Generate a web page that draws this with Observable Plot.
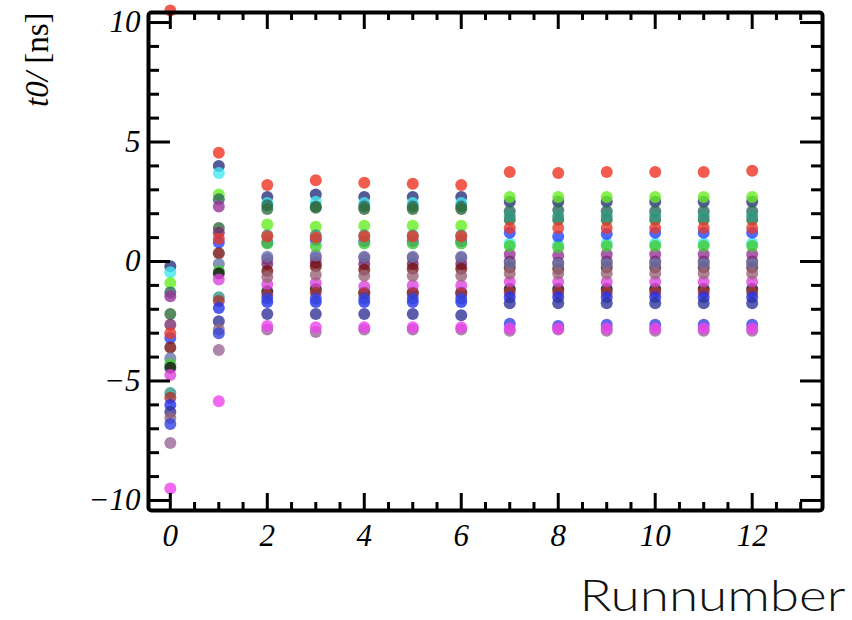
<!DOCTYPE html>
<html>
<head>
<meta charset="utf-8">
<script src="https://cdn.jsdelivr.net/npm/d3@7"></script>
<script src="https://cdn.jsdelivr.net/npm/@observablehq/plot@0.6"></script>
<style>
  html, body { margin: 0; padding: 0; background: #fff; }
  #chart { width: 852px; height: 620px; }
</style>
</head>
<body>
<div id="chart"></div>
<script>
// Run numbers on the x axis
const runs = [0, 1, 2, 3, 4, 5, 6, 7, 8, 9, 10, 11, 12];

// One colour per readout channel
const channelColors = [
  "#ee3322", "#2a2f7a", "#44e8f0", "#66ee22", "#2a6a5a", "#993399",
  "#2e6b3a", "#772d6e", "#2244ff", "#771111", "#6677aa", "#44cc33",
  "#111111", "#dd44dd", "#339988", "#aa3333", "#2233ee", "#333399",
  "#996677", "#3344dd", "#996699", "#ee44ee", "#e83a2a"
];

// t0 offsets [ns] per channel, one array per run
const t0Run00 = [10.5, -0.2, -0.45, -0.9, -1.3, -1.45, -2.2, -2.65, -3.2, -3.6, -4.05, -4.3, -4.45, -4.75, -5.5, -5.7, -6.0, -6.3, -6.55, -6.8, -7.6, -9.5, -3.0];
const t0Run01 = [4.55, 4.0, 3.7, 2.8, 2.6, 2.3, 1.4, 1.2, 0.8, 0.35, -0.1, -0.4, -0.5, -0.75, -1.5, -1.65, -1.95, -2.5, -2.85, -3.0, -3.7, -5.85, 0.95];
const t0Run02 = [3.2, 2.7, 2.45, 1.55, 2.35, 0.1, 2.2, -0.1, 0.8, -0.4, 0.2, 0.75, -1.25, -0.95, 1.1, -1.4, -1.7, -2.2, -0.65, -1.55, -2.85, -2.7, 1.05];
const t0Run03 = [3.4, 2.8, 2.5, 1.45, 2.3, 0.15, 2.25, -0.05, 0.9, -0.2, 0.25, 0.65, -1.15, -0.9, 1.1, -1.3, -1.7, -2.2, -0.55, -1.55, -2.95, -2.75, 1.0];
const t0Run04 = [3.3, 2.7, 2.45, 1.5, 2.3, 0.15, 2.2, -0.1, 0.85, -0.35, 0.2, 0.75, -1.3, -1.05, 1.1, -1.35, -1.7, -2.2, -0.6, -1.55, -2.85, -2.75, 1.05];
const t0Run05 = [3.25, 2.7, 2.45, 1.5, 2.3, 0.15, 2.2, -0.1, 0.85, -0.3, 0.2, 0.75, -1.3, -1.0, 1.1, -1.35, -1.7, -2.2, -0.6, -1.55, -2.85, -2.75, 1.05];
const t0Run06 = [3.2, 2.7, 2.45, 1.5, 2.3, 0.15, 2.2, -0.1, 0.85, -0.3, 0.2, 0.75, -1.3, -1.0, 1.1, -1.35, -1.7, -2.25, -0.6, -1.55, -2.85, -2.75, 1.05];
const t0Run07 = [3.75, 2.5, 0.75, 2.7, 2.1, 0.3, 1.75, 0.0, 1.2, -0.25, -0.1, 0.65, -1.15, -0.85, 1.9, -1.3, -1.5, -1.75, -0.5, -2.6, -2.9, -2.8, 1.4];
const t0Run08 = [3.7, 2.5, 0.7, 2.7, 2.15, 0.25, 1.75, -0.05, 1.05, -0.3, -0.1, 0.6, -1.15, -0.85, 1.9, -1.3, -1.5, -1.75, -0.5, -2.7, -2.85, -2.8, 1.4];
const t0Run09 = [3.75, 2.5, 0.75, 2.7, 2.1, 0.3, 1.75, 0.0, 1.15, -0.25, -0.1, 0.65, -1.15, -0.85, 1.9, -1.3, -1.5, -1.75, -0.5, -2.65, -2.9, -2.8, 1.4];
const t0Run10 = [3.75, 2.5, 0.75, 2.7, 2.1, 0.3, 1.75, 0.0, 1.2, -0.25, -0.1, 0.65, -1.15, -0.85, 1.9, -1.3, -1.5, -1.75, -0.5, -2.65, -2.9, -2.8, 1.4];
const t0Run11 = [3.75, 2.5, 0.75, 2.7, 2.1, 0.3, 1.75, 0.0, 1.2, -0.25, -0.1, 0.65, -1.15, -0.85, 1.9, -1.3, -1.5, -1.75, -0.5, -2.65, -2.9, -2.8, 1.4];
const t0Run12 = [3.8, 2.5, 0.75, 2.7, 2.1, 0.3, 1.75, 0.0, 1.2, -0.25, -0.1, 0.65, -1.15, -0.85, 1.9, -1.3, -1.5, -1.75, -0.5, -2.65, -2.9, -2.8, 1.4];

// Axis ticks
const xMajor = [0, 2, 4, 6, 8, 10, 12];
const xMinor = [0.5, 1, 1.5, 2.5, 3, 3.5, 4.5, 5, 5.5, 6.5, 7, 7.5, 8.5, 9, 9.5, 10.5, 11, 11.5, 12.5, 13];
const yMajor = [-10, -5, 0, 5, 10];
const yMinor = [-9, -8, -7, -6, -4, -3, -2, -1, 1, 2, 3, 4, 6, 7, 8, 9];

const t0ByRun = [t0Run00, t0Run01, t0Run02, t0Run03, t0Run04, t0Run05, t0Run06,
                 t0Run07, t0Run08, t0Run09, t0Run10, t0Run11, t0Run12];
const channels = channelColors.map((_, i) => i);
const points = runs.flatMap((run, r) =>
  t0ByRun[r].map((t0, ch) => ({run, t0, channel: ch})));

const W = 852, H = 620;
const M = {top: 12, right: 30, bottom: 110, left: 148};
const innerW = W - M.left - M.right;
const innerH = H - M.top - M.bottom;
const majorLenY = 22, minorLenY = 11;
const majorLenX = 17, minorLenX = 8;
const tickW = 3;
const serif = "'Liberation Serif', 'DejaVu Serif', serif";

const chart = Plot.plot({
  width: W,
  height: H,
  marginTop: M.top,
  marginRight: M.right,
  marginBottom: M.bottom,
  marginLeft: M.left,
  x: {domain: [-0.45, 13.45], axis: null},
  y: {domain: [-10.42, 10.42], axis: null},
  color: {domain: channels, range: channelColors},
  style: {background: "#fff", overflow: "visible"},
  marks: [
    Plot.dot(points, {x: "run", y: "t0", fill: "channel", r: 6, fillOpacity: 0.8, stroke: null}),
    // inward ticks on all four sides
    Plot.tickY(yMajor, {y: d => d, insetRight: innerW - majorLenY, stroke: "#000", strokeWidth: tickW}),
    Plot.tickY(yMinor, {y: d => d, insetRight: innerW - minorLenY, stroke: "#000", strokeWidth: tickW}),
    Plot.tickY(yMajor, {y: d => d, insetLeft: innerW - majorLenY, stroke: "#000", strokeWidth: tickW}),
    Plot.tickY(yMinor, {y: d => d, insetLeft: innerW - minorLenY, stroke: "#000", strokeWidth: tickW}),
    Plot.tickX(xMajor, {x: d => d, insetTop: innerH - majorLenX, stroke: "#000", strokeWidth: tickW}),
    Plot.tickX(xMinor, {x: d => d, insetTop: innerH - minorLenX, stroke: "#000", strokeWidth: tickW}),
    Plot.tickX(xMajor, {x: d => d, insetBottom: innerH - majorLenX, stroke: "#000", strokeWidth: tickW}),
    Plot.tickX(xMinor, {x: d => d, insetBottom: innerH - minorLenX, stroke: "#000", strokeWidth: tickW}),
    Plot.frame({stroke: "#000", strokeWidth: 4, rx: 3}),
    Plot.axisY(yMajor, {anchor: "left", tickSize: 0, tickPadding: 8, label: null,
      fontSize: 31, fontFamily: serif, fontStyle: "italic", color: "#000"}),
    Plot.axisX(xMajor, {anchor: "bottom", tickSize: 0, tickPadding: 13, label: null,
      fontSize: 31, fontFamily: serif, fontStyle: "italic", color: "#000"}),
    Plot.text(["t0/ [ns]"], {frameAnchor: "top-left", text: d => d, rotate: -90,
      textAnchor: "end", lineAnchor: "middle", dx: -111, dy: 0,
      fontSize: 33, fontFamily: serif, fill: "#000", className: "ylabel"}),
    Plot.text(["Runnumber"], {frameAnchor: "bottom-right", text: d => d,
      textAnchor: "end", lineAnchor: "bottom", dx: 23, dy: 100,
      fontSize: 43, fontFamily: "Lato, 'Open Sans', sans-serif", fontWeight: 300,
      fill: "#111", className: "xlabel"})
  ]
});

// y title: italic variable name followed by an upright unit
const yl = d3.select(chart).select("g.ylabel text");
if (!yl.empty()) {
  yl.text(null);
  yl.append("tspan").attr("font-style", "italic").text("t0/ ");
  yl.append("tspan").text("[ns]");
}

// x title: wide, round geometric-style lettering
d3.select(chart).select("g.xlabel text")
  .attr("textLength", 266)
  .attr("lengthAdjust", "spacingAndGlyphs");

document.getElementById("chart").appendChild(chart);
</script>
</body>
</html>
